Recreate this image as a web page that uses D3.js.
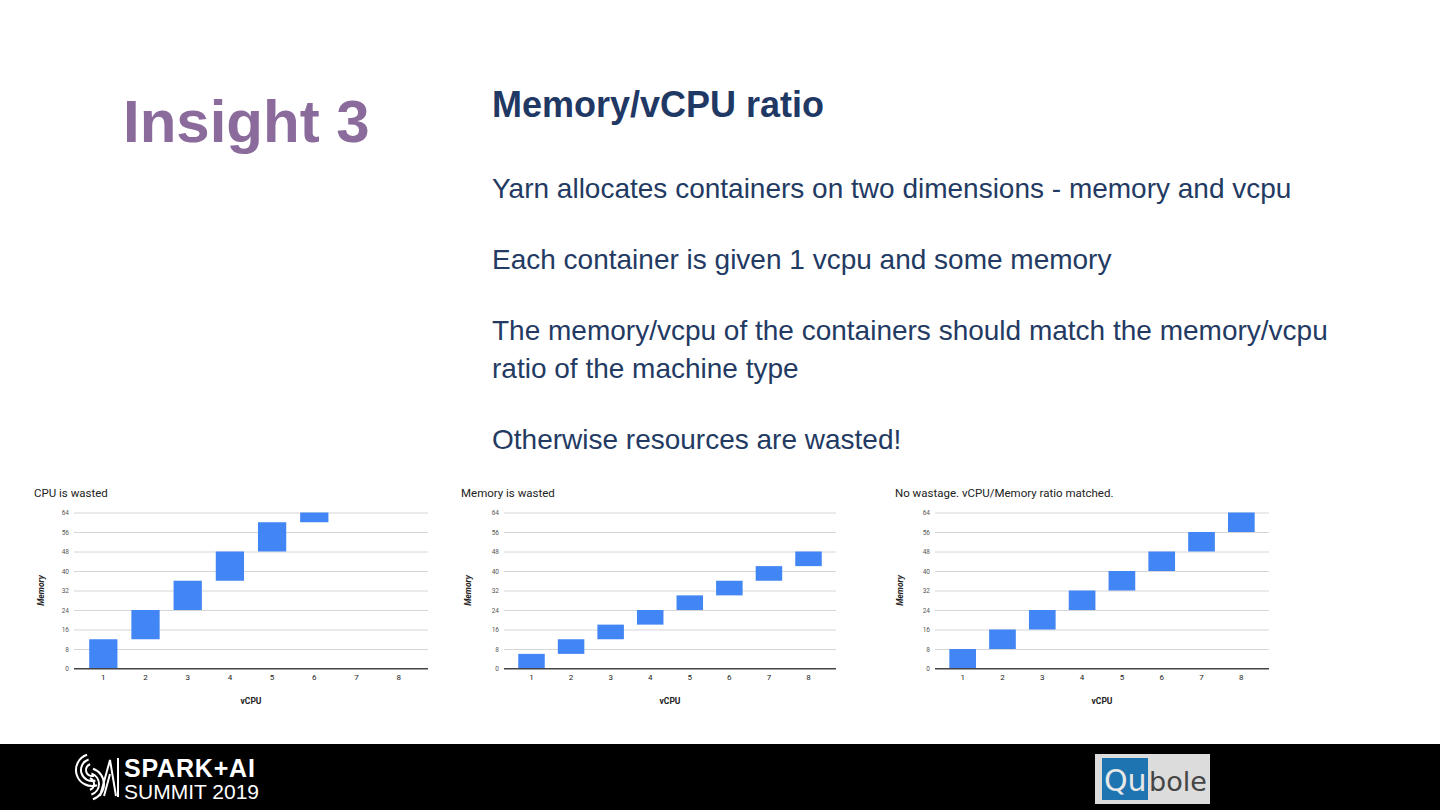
<!DOCTYPE html>
<html>
<head>
<meta charset="utf-8">
<script src="https://cdn.jsdelivr.net/npm/d3@7"></script>
<style>
  html, body { margin: 0; padding: 0; background: #fff; }
  svg { display: block; }
</style>
</head>
<body>
<div id="slide"></div>
<script>
// chart data
const vcpuCats = ["1", "2", "3", "4", "5", "6", "7", "8"];
const memTicks = [0, 8, 16, 24, 32, 40, 48, 56, 64];

// floating bars: memory range [low, high] per vCPU count
const cpuWastedLow  = [0, 12, 24, 36, 48, 60];
const cpuWastedHigh = [12, 24, 36, 48, 60, 64];
const memWastedLow  = [0, 6, 12, 18, 24, 30, 36, 42];
const memWastedHigh = [6, 12, 18, 24, 30, 36, 42, 48];
const matchedLow    = [0, 8, 16, 24, 32, 40, 48, 56];
const matchedHigh   = [8, 16, 24, 32, 40, 48, 56, 64];

const chartTitles = ["CPU is wasted", "Memory is wasted", "No wastage. vCPU/Memory ratio matched."];

const bodyLines = [
  ["Yarn allocates containers on two dimensions - memory and vcpu"],
  ["Each container is given 1 vcpu and some memory"],
  ["The memory/vcpu of the containers should match the memory/vcpu", "ratio of the machine type"],
  ["Otherwise resources are wasted!"]
];

const W = 1440, H = 810;
const svg = d3.select("#slide").append("svg")
  .attr("width", W).attr("height", H)
  .attr("viewBox", `0 0 ${W} ${H}`);

const navy = "#1f3864";

// heading
svg.append("text")
  .attr("x", 123).attr("y", 142)
  .attr("font-family", "Liberation Sans, Arial, sans-serif")
  .attr("font-weight", "bold").attr("font-size", 60)
  .attr("fill", "#8b6a9c")
  .text("Insight 3");

svg.append("text")
  .attr("x", 492).attr("y", 117)
  .attr("font-family", "Liberation Sans, Arial, sans-serif")
  .attr("font-weight", "bold").attr("font-size", 36)
  .attr("fill", navy)
  .text("Memory/vCPU ratio");

const bodyY = [198, 269, 340, 449];
bodyLines.forEach((lines, i) => {
  lines.forEach((line, j) => {
    svg.append("text")
      .attr("x", 492).attr("y", bodyY[i] + j * 38)
      .attr("font-family", "Liberation Sans, Arial, sans-serif")
      .attr("font-size", 28)
      .attr("fill", "#233a63")
      .text(line);
  });
});

// charts
const charts = [
  { title: chartTitles[0], titleX: 34, left: 74, right: 428, labelX: 41, low: cpuWastedLow, high: cpuWastedHigh },
  { title: chartTitles[1], titleX: 461, left: 504, right: 836, labelX: 468, low: memWastedLow, high: memWastedHigh },
  { title: chartTitles[2], titleX: 895, left: 935, right: 1269, labelX: 900, low: matchedLow, high: matchedHigh }
];
const plotTop = 512.5, plotBottom = 668.5;
const chartFont = "Roboto, Arial, sans-serif";

charts.forEach(c => {
  const g = svg.append("g");

  const x = d3.scaleBand()
    .domain(vcpuCats)
    .range([c.left, c.right])
    .paddingInner(0.33)
    .paddingOuter(0.36);

  const y = d3.scaleLinear()
    .domain([0, 64])
    .range([plotBottom, plotTop]);

  g.append("text")
    .attr("x", c.titleX).attr("y", 497)
    .attr("font-family", chartFont).attr("font-size", 11.5)
    .attr("fill", "#222")
    .text(c.title);

  // gridlines + y labels
  const yAxis = g.append("g")
    .attr("transform", `translate(${c.left},0)`)
    .call(d3.axisLeft(y).tickValues(memTicks).tickSize(-(c.right - c.left)).tickPadding(5));
  yAxis.select(".domain").remove();
  yAxis.selectAll(".tick line")
    .attr("stroke", d => d === 0 ? "#444" : "#cccccc")
    .attr("stroke-width", d => d === 0 ? 1 : 0.8);
  yAxis.selectAll(".tick text")
    .attr("font-family", chartFont).attr("font-size", 6.5)
    .attr("fill", "#555");

  // bars
  g.selectAll("rect.bar")
    .data(c.low.map((lo, i) => ({ cat: vcpuCats[i], lo: lo, hi: c.high[i] })))
    .join("rect")
    .attr("class", "bar")
    .attr("x", d => x(d.cat))
    .attr("width", x.bandwidth())
    .attr("y", d => y(d.hi))
    .attr("height", d => y(d.lo) - y(d.hi))
    .attr("fill", "#4285f4");

  // baseline over bars
  g.append("line")
    .attr("x1", c.left).attr("x2", c.right)
    .attr("y1", y(0)).attr("y2", y(0))
    .attr("stroke", "#444").attr("stroke-width", 1);

  const xAxis = g.append("g")
    .attr("transform", `translate(0,${plotBottom})`)
    .call(d3.axisBottom(x).tickSize(0).tickPadding(6));
  xAxis.select(".domain").remove();
  xAxis.selectAll(".tick text")
    .attr("font-family", chartFont).attr("font-size", 8)
    .attr("fill", "#222");

  g.append("text")
    .attr("x", (c.left + c.right) / 2).attr("y", 704)
    .attr("text-anchor", "middle")
    .attr("font-family", chartFont).attr("font-size", 8.5).attr("font-weight", "bold")
    .attr("fill", "#222")
    .text("vCPU");

  g.append("text")
    .attr("transform", `translate(${c.labelX + 3},${(plotTop + plotBottom) / 2}) rotate(-90)`)
    .attr("text-anchor", "middle")
    .attr("font-family", chartFont).attr("font-size", 8.5)
    .attr("font-weight", "bold").attr("font-style", "italic")
    .attr("fill", "#222")
    .text("Memory");
});

// footer band
svg.append("rect")
  .attr("x", 0).attr("y", 744).attr("width", W).attr("height", H - 744)
  .attr("fill", "#000");

// spark+ai summit mark
const mark = svg.append("g")
  .attr("fill", "none").attr("stroke", "#fff").attr("stroke-width", 2);
[6, 11, 16].forEach(r => {
  mark.append("path")
    .attr("d", d3.arc()({ innerRadius: r, outerRadius: r, startAngle: -Math.PI * 0.1, endAngle: -Math.PI * 1.1 }))
    .attr("transform", "translate(92,770)");
  mark.append("path")
    .attr("d", d3.arc()({ innerRadius: r, outerRadius: r, startAngle: Math.PI * 0.9, endAngle: Math.PI * 0.1 }))
    .attr("transform", "translate(88,784)");
});
mark.append("path").attr("d", "M100,796 L110,760 L116,796");
mark.append("path").attr("d", "M104,796 L110,774");
mark.append("line").attr("x1", 118).attr("y1", 758).attr("x2", 118).attr("y2", 797);

svg.append("text")
  .attr("x", 124).attr("y", 777)
  .attr("font-family", "Liberation Sans, Arial, sans-serif")
  .attr("font-weight", "bold").attr("font-size", 25)
  .attr("letter-spacing", 0.8)
  .attr("fill", "#fff")
  .text("SPARK+AI");
svg.append("text")
  .attr("x", 124).attr("y", 799)
  .attr("font-family", "Liberation Sans, Arial, sans-serif")
  .attr("font-size", 21)
  .attr("fill", "#fff")
  .text("SUMMIT 2019");

// qubole logo
svg.append("rect")
  .attr("x", 1095).attr("y", 754).attr("width", 115).attr("height", 50)
  .attr("fill", "#dcdcdc");
svg.append("rect")
  .attr("x", 1102).attr("y", 758).attr("width", 46).attr("height", 42)
  .attr("fill", "#1d74b0");
svg.append("text")
  .attr("x", 1104).attr("y", 791)
  .attr("font-family", "DejaVu Sans, sans-serif")
  .attr("font-size", 30).attr("fill", "#e8e8e8")
  .text("Qu");
svg.append("text")
  .attr("x", 1149).attr("y", 791)
  .attr("font-family", "DejaVu Sans, sans-serif")
  .attr("font-size", 27).attr("fill", "#444")
  .text("bole");
</script>
</body>
</html>
